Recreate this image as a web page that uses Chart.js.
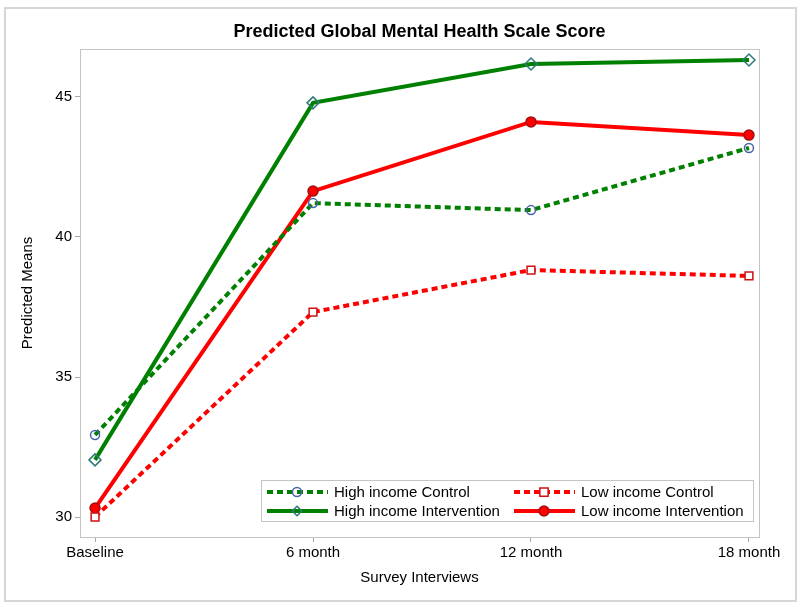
<!DOCTYPE html>
<html>
<head>
<meta charset="utf-8">
<script src="https://cdn.jsdelivr.net/npm/chart.js@4.4.0/dist/chart.umd.min.js"></script>
<style>
    body { margin: 0; background: #ffffff; }
    #wrap { position: relative; width: 800px; height: 608px; }
    #frame {
        position: absolute; left: 4px; top: 7px; width: 789px; height: 591px;
        border: 2px solid #d6d6d6; pointer-events: none;
    }
    canvas { position: absolute; left: 0; top: 0; }
</style>
</head>
<body>
<div id="wrap">
    <canvas id="chart" width="800" height="608"></canvas>
    <div id="frame"></div>
</div>
<script>
const visits = ['Baseline', '6 month', '12 month', '18 month'];
const yTicks = [30, 35, 40, 45];

const highControl = [32.93, 41.21, 40.96, 43.18];
const highIntervention = [32.04, 44.79, 46.18, 46.32];
const lowControl = [30.00, 37.32, 38.82, 38.61];
const lowIntervention = [30.32, 41.64, 44.11, 43.64];

const FONT = '"Liberation Sans", Arial, sans-serif';
const GREEN = '#008000';
const RED = '#ff0000';

function toPoints(arr) {
    return arr.map((v, i) => ({ x: i, y: v }));
}

const datasets = [
    {
        label: 'High income Control',
        data: toPoints(highControl),
        borderColor: GREEN,
        borderWidth: 4,
        borderDash: [6, 4],
        pointStyle: 'circle',
        pointRadius: 4.5,
        pointBorderWidth: 1.5,
        pointBorderColor: '#4a64a8',
        pointBackgroundColor: 'rgba(255,255,255,0)'
    },
    {
        label: 'Low income Control',
        data: toPoints(lowControl),
        borderColor: RED,
        borderWidth: 4,
        borderDash: [6, 4],
        pointStyle: 'rect',
        pointRadius: 5.5,
        pointBorderWidth: 1.5,
        pointBorderColor: '#d01010',
        pointBackgroundColor: '#ffffff'
    },
    {
        label: 'High income Intervention',
        data: toPoints(highIntervention),
        borderColor: GREEN,
        borderWidth: 4,
        pointStyle: 'rectRot',
        pointRadius: 6,
        pointBorderWidth: 1.5,
        pointBorderColor: '#2f7a78',
        pointBackgroundColor: 'rgba(255,255,255,0)'
    },
    {
        label: 'Low income Intervention',
        data: toPoints(lowIntervention),
        borderColor: RED,
        borderWidth: 4,
        pointStyle: 'circle',
        pointRadius: 5,
        pointBorderWidth: 1.5,
        pointBorderColor: '#a01010',
        pointBackgroundColor: RED
    }
];

// plot frame + centred title
const framePlugin = {
    id: 'framePlugin',
    afterDatasetsDraw(chart) {
        const { ctx, chartArea: a } = chart;
        ctx.save();
        ctx.strokeStyle = '#c4c4c4';
        ctx.lineWidth = 1;
        ctx.strokeRect(a.left + 0.5, a.top + 0.5, a.right - a.left, a.bottom - a.top);
        ctx.fillStyle = '#000000';
        ctx.font = 'bold 18px ' + FONT;
        ctx.textAlign = 'center';
        ctx.textBaseline = 'middle';
        ctx.fillText('Predicted Global Mental Health Scale Score', (a.left + a.right) / 2, 32);
        ctx.restore();
    }
};

function drawMarker(ctx, style, r, x, y) {
    if (style === 'circle') {
        ctx.arc(x, y, r, 0, Math.PI * 2);
    } else if (style === 'rect') {
        const s = r * 0.75;
        ctx.rect(x - s, y - s, s * 2, s * 2);
    } else {
        const d = r * 0.8;
        ctx.moveTo(x, y - d);
        ctx.lineTo(x + d, y);
        ctx.lineTo(x, y + d);
        ctx.lineTo(x - d, y);
        ctx.closePath();
    }
}

// two-column legend inside the plot, bottom right
const legendPlugin = {
    id: 'legendPlugin',
    afterDraw(chart) {
        const { ctx, chartArea: a } = chart;
        const boxW = 492, boxH = 41;
        const left = a.right - 6 - boxW;
        const top = a.bottom - 16 - boxH;
        ctx.save();
        ctx.fillStyle = '#ffffff';
        ctx.fillRect(left, top, boxW, boxH);
        ctx.strokeStyle = '#c4c4c4';
        ctx.lineWidth = 1;
        ctx.strokeRect(left + 0.5, top + 0.5, boxW, boxH);

        ctx.font = '15px ' + FONT;
        ctx.textBaseline = 'middle';
        ctx.textAlign = 'left';
        chart.data.datasets.forEach((ds, i) => {
            const col = i % 2, row = Math.floor(i / 2);
            const x0 = left + 6 + col * 247;
            const y = top + 12 + row * 19;
            ctx.strokeStyle = ds.borderColor;
            ctx.lineWidth = ds.borderWidth;
            ctx.setLineDash(ds.borderDash || []);
            ctx.beginPath();
            ctx.moveTo(x0, y);
            ctx.lineTo(x0 + 61, y);
            ctx.stroke();
            ctx.setLineDash([]);
            ctx.fillStyle = ds.pointBackgroundColor;
            ctx.strokeStyle = ds.pointBorderColor;
            ctx.lineWidth = ds.pointBorderWidth;
            ctx.beginPath();
            drawMarker(ctx, ds.pointStyle, ds.pointRadius, x0 + 30, y);
            ctx.fill();
            ctx.stroke();
            ctx.fillStyle = '#000000';
            ctx.fillText(ds.label, x0 + 67, y + 1);
        });
        ctx.restore();
    }
};

new Chart(document.getElementById('chart').getContext('2d'), {
    type: 'line',
    data: { datasets: datasets },
    options: {
        responsive: false,
        animation: false,
        layout: { padding: { left: 10, right: 41, top: 49, bottom: 10 } },
        plugins: {
            legend: { display: false },
            title: { display: false },
            tooltip: { enabled: false }
        },
        elements: { line: { tension: 0, fill: false } },
        scales: {
            x: {
                type: 'linear',
                min: -0.069,
                max: 3.046,
                afterBuildTicks: s => { s.ticks = visits.map((v, i) => ({ value: i })); },
                afterFit: s => { s.height = 61; },
                grid: { drawOnChartArea: false, drawTicks: true, tickLength: 5, tickColor: '#a8a8a8' },
                border: { display: false },
                ticks: {
                    padding: 2,
                    color: '#000000',
                    font: { family: FONT, size: 15 },
                    maxRotation: 0,
                    callback: v => visits[v]
                },
                title: {
                    display: true,
                    text: 'Survey Interviews',
                    color: '#000000',
                    font: { family: FONT, size: 15 },
                    padding: { top: 0, bottom: 11 }
                }
            },
            y: {
                min: 29.286,
                max: 46.714,
                afterBuildTicks: s => { s.ticks = yTicks.map(v => ({ value: v })); },
                afterFit: s => { s.width = 70; },
                grid: { drawOnChartArea: false, drawTicks: true, tickLength: 5, tickColor: '#a8a8a8' },
                border: { display: false },
                ticks: {
                    padding: 3,
                    color: '#000000',
                    font: { family: FONT, size: 15 }
                },
                title: {
                    display: true,
                    text: 'Predicted Means',
                    color: '#000000',
                    font: { family: FONT, size: 15 },
                    padding: { top: 9, bottom: 0 }
                }
            }
        }
    },
    plugins: [framePlugin, legendPlugin]
});
</script>
</body>
</html>
